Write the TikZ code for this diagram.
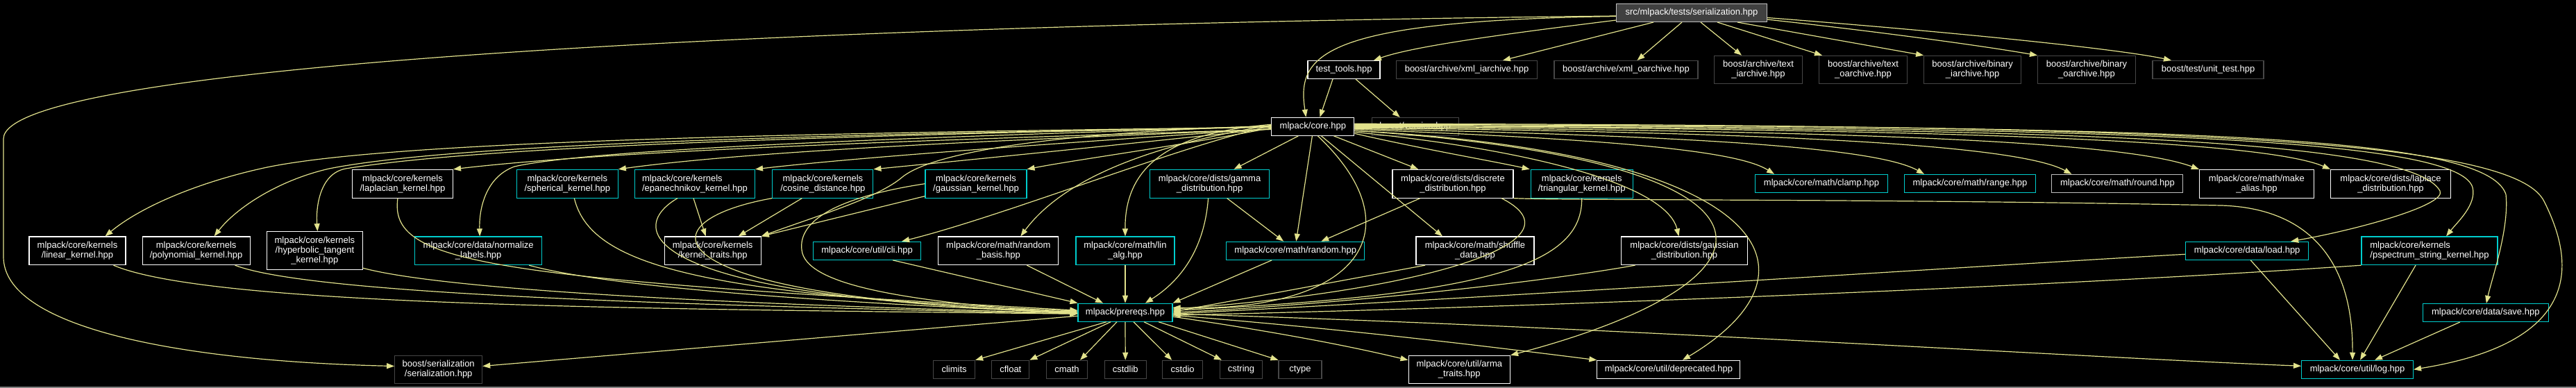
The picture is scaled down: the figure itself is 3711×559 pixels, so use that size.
\documentclass[tikz,border=0pt]{standalone}
\usepackage{fontspec}
\setmainfont{Liberation Sans}
\usetikzlibrary{arrows.meta}
\definecolor{edgec}{RGB}{226,226,140}
\definecolor{cyanc}{RGB}{0,205,205}
\definecolor{extc}{RGB}{70,70,70}
\definecolor{rootf}{RGB}{64,64,64}
\definecolor{lgrey}{RGB}{191,191,191}
\begin{document}
\begin{tikzpicture}[x=1pt,y=1pt,
  box/.style={draw, line width=1.1pt, text=white, fill=black, inner sep=0pt, align=center, font=\fontsize{13}{14}\selectfont},
  sz/.style 2 args={minimum width=#1pt, minimum height=#2pt},
  wbox/.style={box, draw=white},
  gbox/.style={box, draw=lgrey},
  cbox/.style={box, draw=cyanc},
  xbox/.style={box, draw=extc},
  rootbox/.style={box, draw=lgrey, fill=rootf},
  edg/.style={draw=edgec, line width=1.2pt, -{Triangle[length=11pt,width=8pt]}}]
\fill[black] (0,0) rectangle (3711,-559);
\useasboundingbox (0,0) rectangle (3711,-559);
\fill[gray] (0,-556.5) rectangle (3711,-559);

% row 1-3
\node[rootbox, sz={217}{26}] (root) at (2437,-18.5) {src/mlpack/tests/serialization.hpp};
\node[wbox, sz={104}{26}] (tt) at (1936,-100.5) {test\_tools.hpp};
\node[xbox, sz={203}{26}] (xmli) at (2113,-100.5) {boost/archive/xml\_iarchive.hpp};
\node[xbox, sz={207}{26}] (xmlo) at (2342.5,-100.5) {boost/archive/xml\_oarchive.hpp};
\node[xbox, sz={127}{40}] (txti) at (2533,-100.3) {boost/archive/text\\\_iarchive.hpp};
\node[xbox, sz={127}{40}] (txto) at (2684,-100.3) {boost/archive/text\\\_oarchive.hpp};
\node[xbox, sz={140}{40}] (bini) at (2841.6,-100.3) {boost/archive/binary\\\_iarchive.hpp};
\node[xbox, sz={141}{40}] (bino) at (3006,-100.3) {boost/archive/binary\\\_oarchive.hpp};
\node[xbox, sz={160}{26}] (unit) at (3181,-100.5) {boost/test/unit\_test.hpp};
\node[wbox, sz={119}{26}] (core) at (1891.4,-182.3) {mlpack/core.hpp};
\node[xbox, sz={125}{26}] (ver) at (2038.7,-182.5) {boost/version.hpp};

% row 4
\node[wbox, sz={145}{40.7}] (lapk) at (580,-264.7) {mlpack/core/kernels\\/laplacian\_kernel.hpp};
\node[cbox, sz={146}{40.7}] (sph) at (817.3,-264.7) {mlpack/core/kernels\\/spherical\_kernel.hpp};
\node[cbox, sz={173}{40.7}, align=left] (epa) at (1001,-264.7) {mlpack/core/kernels\\/epanechnikov\_kernel.hpp};
\node[cbox, sz={145}{40.7}] (cos) at (1185.4,-264.7) {mlpack/core/kernels\\/cosine\_distance.hpp};
\node[cbox, sz={146}{40.7}] (gk) at (1406,-264.7) {mlpack/core/kernels\\/gaussian\_kernel.hpp};
\node[cbox, sz={172}{40.7}] (gam) at (1742.6,-264.7) {mlpack/core/dists/gamma\\\_distribution.hpp};
\node[wbox, sz={174}{40.7}] (disc) at (2093,-264.7) {mlpack/core/dists/discrete\\\_distribution.hpp};
\node[cbox, sz={147}{40.7}] (tri) at (2278.7,-264.7) {mlpack/core/kernels\\/triangular\_kernel.hpp};
\node[cbox, sz={191}{26}] (clamp) at (2624,-264.4) {mlpack/core/math/clamp.hpp};
\node[cbox, sz={189}{26}] (range) at (2838,-264.4) {mlpack/core/math/range.hpp};
\node[gbox, sz={189}{26}] (round) at (3050.4,-264.4) {mlpack/core/math/round.hpp};
\node[wbox, sz={165}{40.7}] (alias) at (3250.9,-264.7) {mlpack/core/math/make\\\_alias.hpp};
\node[wbox, sz={173}{40.7}] (lapd) at (3444,-264.7) {mlpack/core/dists/laplace\\\_distribution.hpp};

% row 5
\node[wbox, sz={139}{40.7}] (lin) at (111.5,-361.3) {mlpack/core/kernels\\/linear\_kernel.hpp};
\node[wbox, sz={155}{40.7}] (poly) at (282.6,-361.3) {mlpack/core/kernels\\/polynomial\_kernel.hpp};
\node[wbox, sz={138}{55}] (hyp) at (453.4,-361.2) {mlpack/core/kernels\\/hyperbolic\_tangent\\\_kernel.hpp};
\node[cbox, sz={183}{40.7}] (norm) at (689.2,-361.3) {mlpack/core/data/normalize\\\_labels.hpp};
\node[wbox, sz={139}{40.7}] (kt) at (1026.7,-361.3) {mlpack/core/kernels\\/kernel\_traits.hpp};
\node[cbox, sz={155}{26}] (cli) at (1249.1,-361.3) {mlpack/core/util/cli.hpp};
\node[wbox, sz={173}{40.7}] (rb) at (1438.3,-361.3) {mlpack/core/math/random\\\_basis.hpp};
\node[cbox, sz={142}{40.7}] (la) at (1621,-361.3) {mlpack/core/math/lin\\\_alg.hpp};
\node[cbox, sz={199}{26}] (rnd) at (1866.2,-361.3) {mlpack/core/math/random.hpp};
\node[wbox, sz={170}{40.7}] (shuf) at (2125,-361.3) {mlpack/core/math/shuffle\\\_data.hpp};
\node[wbox, sz={181.5}{40.7}] (gd) at (2426.5,-361.3) {mlpack/core/dists/gaussian\\\_distribution.hpp};
\node[cbox, sz={177}{26}] (load) at (3237.2,-361.3) {mlpack/core/data/load.hpp};
\node[cbox, sz={196}{40.7}, align=left] (psk) at (3500,-361.3) {mlpack/core/kernels\\/pspectrum\_string\_kernel.hpp};

% row 6
\node[cbox, sz={136}{26}] (prereqs) at (1621,-450.2) {mlpack/prereqs.hpp};
\node[cbox, sz={181}{26}] (save) at (3580.8,-450.5) {mlpack/core/data/save.hpp};

% row 7
\node[xbox, sz={60}{26}] (climits) at (1374.6,-532.3) {climits};
\node[xbox, sz={54}{26}] (cfloat) at (1455.8,-532.3) {cfloat};
\node[xbox, sz={59}{26}] (cmath) at (1537,-532.3) {cmath};
\node[xbox, sz={60}{26}] (cstdlib) at (1621.2,-532.3) {cstdlib};
\node[xbox, sz={58}{26}] (cstdio) at (1703.7,-532.3) {cstdio};
\node[xbox, sz={61}{26}] (cstring) at (1788,-532.3) {cstring};
\node[xbox, sz={62}{26}] (ctype) at (1873,-532.3) {ctype};
\node[xbox, sz={126}{40.3}] (bser) at (631.7,-532.5) {boost/serialization\\/serialization.hpp};
\node[wbox, sz={146.5}{40.3}] (arma) at (2102.3,-532.5) {mlpack/core/util/arma\\\_traits.hpp};
\node[wbox, sz={206}{26}] (depr) at (2403.9,-532.3) {mlpack/core/util/deprecated.hpp};
\node[cbox, sz={161}{26}] (log) at (3396,-532.3) {mlpack/core/util/log.hpp};

% root edges
\draw[edg] ([yshift=-5pt]root.west) .. controls (1900,-30) and (1868,-80) .. ([xshift=-10pt]core.north);
\draw[edg] ([yshift=3pt]root.south west) .. controls (2200,-45) and (2040,-65) .. ([xshift=43pt]tt.north);
\draw[edg] ([xshift=-55pt]root.south) -- ([xshift=52pt]xmli.north);
\draw[edg] ([xshift=-14pt]root.south) -- ([xshift=16pt]xmlo.north);
\draw[edg] ([xshift=13pt]root.south) -- ([xshift=-24pt]txti.north);
\draw[edg] ([xshift=37pt]root.south) -- ([xshift=-59pt]txto.north);
\draw[edg] ([xshift=66pt]root.south) -- (bini.north west);
\draw[edg] ([yshift=4pt]root.south east) .. controls (2700,-45) and (2850,-65) .. (bino.north west);
\draw[edg] ([yshift=-7pt]root.east) .. controls (2800,-45) and (3050,-70) .. ([xshift=-53pt]unit.north);
\draw[edg] ([yshift=-4.5pt]root.west) .. controls (1200,-35) and (5,-90) .. (5,-200) -- (5,-370) .. controls (5,-470) and (250,-520) .. ([yshift=5pt]bser.west);

% test_tools
\draw[edg] ([xshift=-16pt]tt.south) -- ([xshift=10pt]core.north);
\draw[edg] ([xshift=17pt]tt.south) -- ([xshift=-22pt]ver.north);

% core downward / right
\draw[edg] ([xshift=-21pt]core.south) -- ([xshift=35pt]gam.north);
\draw[edg] ([xshift=-1pt]core.south) -- ([xshift=1pt]rnd.north);
\draw[edg] ([xshift=7pt]core.south) .. controls (2040,-330) and (1960,-450) .. ([yshift=7pt]prereqs.east);
\draw[edg] ([xshift=12pt]core.south) -- ([xshift=-47pt]shuf.north);
\draw[edg] ([xshift=30pt]core.south) -- ([xshift=-50pt]disc.north);
\draw[edg] ([yshift=-10pt]core.east) .. controls (2050,-215) and (2150,-232) .. ([xshift=-75pt]tri.north);
\draw[edg] ([yshift=-8pt]core.east) .. controls (2200,-215) and (2400,-265) .. ([xshift=-8pt]gd.north);
\draw[edg] ([yshift=-6pt]core.east) .. controls (2600,-230) and (2600,-400) .. (arma.north east);
\draw[edg] ([yshift=-6pt]core.east) .. controls (2550,-220) and (2640,-390) .. ([xshift=20pt]depr.north);
\draw[edg] ([yshift=-4pt]core.east) .. controls (2300,-200) and (2500,-215) .. ([xshift=-68pt]clamp.north);
\draw[edg] ([yshift=-3pt]core.east) .. controls (2400,-195) and (2700,-210) .. ([xshift=-66pt]range.north);
\draw[edg] ([yshift=-2pt]core.east) .. controls (2500,-190) and (2900,-205) .. ([xshift=-66pt]round.north);
\draw[edg] ([yshift=-1pt]core.east) .. controls (2600,-188) and (3050,-200) .. (alias.north west);
\draw[edg] (core.east) .. controls (2700,-185) and (3250,-198) .. (lapd.north west);
\draw[edg] ([yshift=1pt]core.east) .. controls (2900,-185) and (3470,-195) .. (3515,-275) .. controls (3525,-295) and (3400,-330) .. ([xshift=63pt]load.north);
\draw[edg] ([yshift=2pt]core.east) .. controls (3000,-183) and (3540,-195) .. (3562,-270) .. controls (3568,-295) and (3540,-320) .. ([xshift=24pt]psk.north);
\draw[edg] ([yshift=3pt]core.east) .. controls (3100,-182) and (3580,-190) .. (3610,-280) .. controls (3615,-330) and (3590,-400) .. ([xshift=1pt]save.north);
\draw[edg] ([yshift=4pt]core.east) .. controls (3150,-180) and (3620,-200) .. (3665,-290) .. controls (3700,-360) and (3740,-490) .. (log.east);

% core left
\draw[edg] ([yshift=-4pt]core.west) .. controls (1400,-200) and (900,-215) .. (lapk.north east);
\draw[edg] ([yshift=-4pt]core.west) .. controls (1500,-200) and (1100,-215) .. (sph.north east);
\draw[edg] ([yshift=-3pt]core.west) .. controls (1550,-205) and (1250,-225) .. (epa.north east);
\draw[edg] ([yshift=-3pt]core.west) .. controls (1600,-210) and (1400,-230) .. (cos.north east);
\draw[edg] ([yshift=-2pt]core.west) .. controls (1700,-210) and (1550,-230) .. (gk.north east);
\draw[edg] ([yshift=-1pt]core.west) .. controls (1100,-192) and (550,-205) .. (380,-242) .. controls (280,-264) and (200,-300) .. ([xshift=40pt]lin.north);
\draw[edg] ([yshift=-1pt]core.west) .. controls (1150,-194) and (650,-208) .. (474,-243) .. controls (400,-260) and (340,-300) .. ([xshift=26pt]poly.north);
\draw[edg] (core.west) .. controls (1200,-196) and (700,-210) .. (498,-243) .. controls (460,-250) and (455,-300) .. ([xshift=4pt]hyp.north);
\draw[edg] (core.west) .. controls (1300,-198) and (850,-215) .. (741,-240) .. controls (700,-255) and (690,-300) .. ([xshift=2pt]norm.north);
\draw[edg] ([yshift=1pt]core.west) .. controls (1550,-190) and (1350,-215) .. (1300,-255) .. controls (1265,-285) and (1180,-310) .. (kt.north east);
\draw[edg] ([yshift=1pt]core.west) .. controls (1700,-210) and (1450,-310) .. ([xshift=50pt]cli.north);
\draw[edg] ([yshift=2pt]core.west) .. controls (1650,-210) and (1530,-260) .. ([xshift=32pt]rb.north);
\draw[edg] ([yshift=3pt]core.west) .. controls (1700,-190) and (1620,-230) .. (la.north);

% gamma / discrete / etc.
\draw[edg] ([xshift=25pt]gam.south) -- ([xshift=-17pt]rnd.north);
\draw[edg] ([xshift=-47pt]disc.south) -- ([xshift=37pt]rnd.north);
\draw[edg] ([xshift=-2pt]gam.south) .. controls (1735,-360) and (1700,-405) .. ([xshift=29pt]prereqs.north);
\draw[edg] ([xshift=70pt]disc.south) .. controls (2290,-350) and (2040,-420) .. ([yshift=5pt]prereqs.east);
\draw[edg] (disc.south east) .. controls (2250,-289) and (2700,-286) .. (3200,-296) .. controls (3330,-300) and (3390,-380) .. ([xshift=-7pt]log.north);
\draw[edg] (tri.south) .. controls (2280,-380) and (2150,-425) .. ([yshift=3pt]prereqs.east);
\draw[edg] ([xshift=-72pt]shuf.south) -- ([yshift=1pt]prereqs.east);
\draw[edg] ([xshift=-71pt]gd.south) .. controls (2200,-410) and (1900,-440) .. (prereqs.east);
\draw[edg] ([xshift=-34pt]rnd.south) -- (prereqs.north east);
\draw[edg] ([yshift=-5pt]load.west) .. controls (2900,-380) and (2300,-420) .. ([yshift=-2pt]prereqs.east);
\draw[edg] (psk.south west) .. controls (3000,-410) and (2300,-440) .. ([yshift=-4pt]prereqs.east);
\draw[edg] ([xshift=5pt]load.south) -- ([xshift=-25pt]log.north);
\draw[edg] ([xshift=-20pt]psk.south) -- ([xshift=4pt]log.north);
\draw[edg] ([xshift=-37pt]save.south) -- ([xshift=25pt]log.north);

% left kernels
\draw[edg] ([xshift=-7pt]lapk.south) .. controls (560,-380) and (700,-400) .. ([yshift=3pt]prereqs.west);
\draw[edg] ([xshift=10pt]sph.south) .. controls (850,-380) and (1000,-425) .. ([yshift=2pt]prereqs.west);
\draw[edg] ([xshift=-25pt]epa.south) .. controls (900,-330) and (920,-430) .. ([yshift=1pt]prereqs.west);
\draw[edg] (cos.south west) .. controls (920,-320) and (930,-430) .. (prereqs.west);
\draw[edg] (gk.west) .. controls (1200,-285) and (1150,-320) .. (1155,-360) .. controls (1160,-410) and (1300,-435) .. ([yshift=-1pt]prereqs.west);
\draw[edg] ([yshift=3pt]gk.south west) -- (kt.north east);
\draw[edg] ([xshift=-2pt]epa.south) -- ([xshift=-10pt]kt.north);
\draw[edg] ([xshift=-30pt]cos.south) -- ([xshift=37pt]kt.north);
\draw[edg] ([xshift=73pt]norm.south) .. controls (900,-420) and (1300,-440) .. ([yshift=-1pt]prereqs.west);
\draw[edg] ([xshift=52pt]lin.south) .. controls (300,-440) and (900,-445) .. ([yshift=-2pt]prereqs.west);
\draw[edg] ([xshift=56pt]poly.south) .. controls (450,-425) and (1000,-440) .. ([yshift=-2pt]prereqs.west);
\draw[edg] ([yshift=3pt]hyp.south east) .. controls (650,-420) and (1100,-440) .. ([yshift=-1pt]prereqs.west);
\draw[edg] ([xshift=37pt]cli.south) -- (prereqs.north west);
\draw[edg] ([xshift=41pt]rb.south) -- ([xshift=-32pt]prereqs.north);
\draw[edg] (la.south) -- (prereqs.north);

% prereqs out
\draw[edg] ([xshift=-27pt]prereqs.south) -- (climits.north east);
\draw[edg] ([xshift=-21pt]prereqs.south) -- (cfloat.north east);
\draw[edg] ([xshift=-12pt]prereqs.south) -- ([xshift=-11pt]cmath.north east);
\draw[edg] (prereqs.south) -- (cstdlib.north);
\draw[edg] ([xshift=12pt]prereqs.south) -- ([xshift=14pt]cstdio.north west);
\draw[edg] ([xshift=27pt]prereqs.south) -- ([xshift=3pt]cstring.north west);
\draw[edg] ([xshift=48pt]prereqs.south) -- (ctype.north west);
\draw[edg] ([yshift=-6pt]prereqs.east) .. controls (1850,-480) and (1950,-500) .. ([yshift=-7pt]arma.north west);
\draw[edg] ([yshift=-4pt]prereqs.east) .. controls (1950,-475) and (2150,-500) .. (depr.north west);
\draw[edg] ([yshift=-2pt]prereqs.east) .. controls (2300,-470) and (3000,-515) .. ([yshift=5pt]log.west);
\draw[edg] ([yshift=-5pt]prereqs.west) -- ([yshift=5pt]bser.east);
\end{tikzpicture}
\end{document}
